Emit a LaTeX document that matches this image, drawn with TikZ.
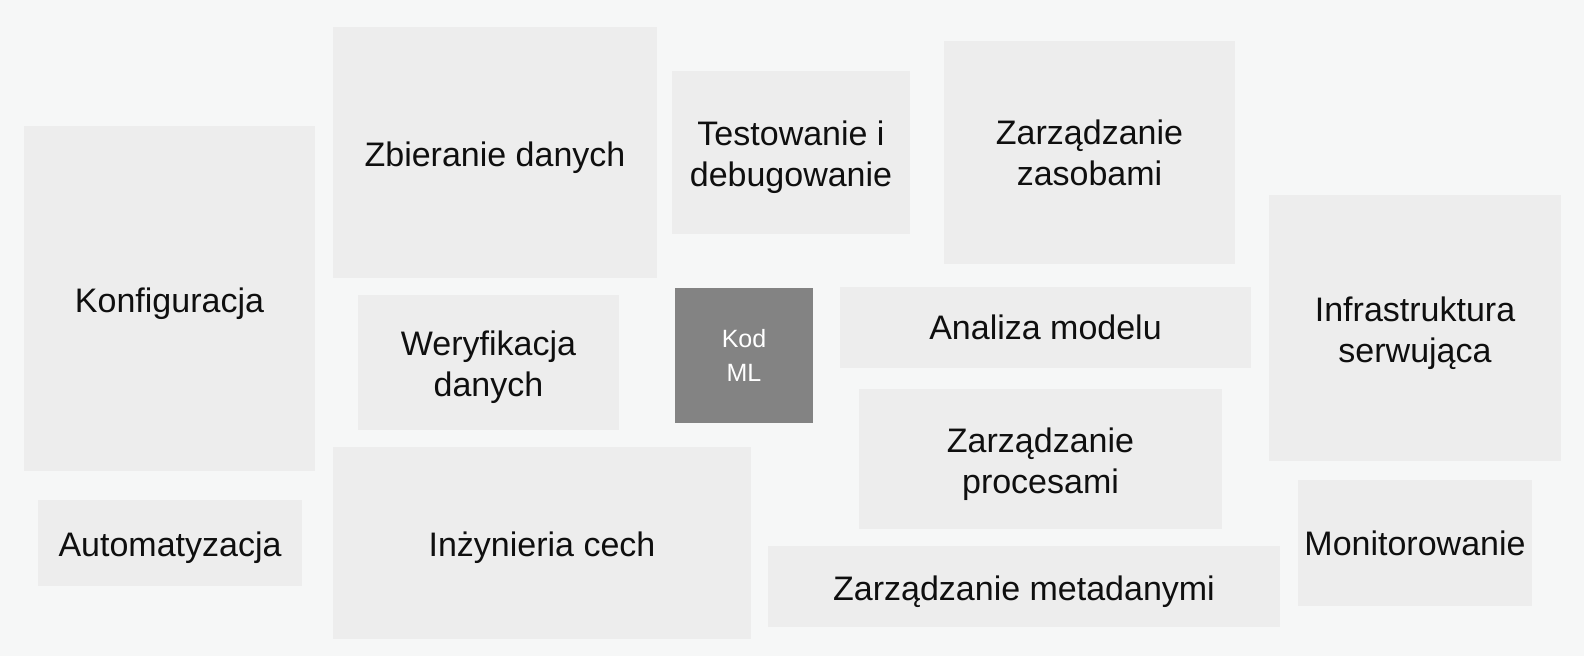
\documentclass[tikz,border=0pt]{standalone}
\usepackage{fontspec}
\setmainfont{Liberation Sans}
\definecolor{bgc}{HTML}{F6F7F7}
\definecolor{boxc}{HTML}{EDEDED}
\definecolor{kodc}{HTML}{838383}
\definecolor{txtc}{HTML}{0F0F0F}
\tikzset{
  box/.style={fill=boxc, draw=none, inner sep=0pt, outer sep=0pt},
  lbl/.style={align=center, text=txtc, inner sep=0pt, yshift=-5pt,
    font=\fontsize{34}{41}\selectfont},
  lblflat/.style={lbl, yshift=5pt},
  kodbox/.style={fill=kodc, draw=none, inner sep=0pt, outer sep=0pt, align=center,
    text=white, font=\fontsize{25}{34}\selectfont}
}
\begin{document}
\begin{tikzpicture}[x=1pt,y=-1pt]
\fill[bgc] (0,0) rectangle (1584,656);
\useasboundingbox (0,0) rectangle (1584,656);
\node[box, minimum width=291pt, minimum height=345pt, label={[lbl]center:{Konfiguracja}}] (konf) at (169.5,298.5) {};
\node[box, minimum width=324pt, minimum height=251pt, label={[lbl]center:{Zbieranie danych}}] (zbier) at (495,152.5) {};
\node[box, minimum width=238pt, minimum height=163pt, label={[lbl]center:{Testowanie i\\debugowanie}}] (test) at (791,152.5) {};
\node[box, minimum width=291pt, minimum height=223pt, label={[lblflat]center:{Zarządzanie\\zasobami}}] (zas) at (1089.5,152.5) {};
\node[box, minimum width=292pt, minimum height=266pt, label={[lbl]center:{Infrastruktura\\serwująca}}] (infra) at (1415,328) {};
\node[box, minimum width=261pt, minimum height=135pt, label={[lbl]center:{Weryfikacja\\danych}}] (wer) at (488.5,362.5) {};
\node[kodbox, minimum width=138pt, minimum height=135pt] (kod) at (744,355.5) {Kod\\ML};
\node[box, minimum width=411pt, minimum height=81pt, label={[lblflat]center:{Analiza modelu}}] (anal) at (1045.5,327.5) {};
\node[box, minimum width=363pt, minimum height=140pt, label={[lbl]center:{Zarządzanie\\procesami}}] (proc) at (1040.5,459) {};
\node[box, minimum width=264pt, minimum height=86pt, label={[lbl]center:{Automatyzacja}}] (auto) at (170,543) {};
\node[box, minimum width=418pt, minimum height=192pt, label={[lbl]center:{Inżynieria cech}}] (inz) at (542,543) {};
\node[box, minimum width=512pt, minimum height=81pt, label={[lbl]center:{Zarządzanie metadanymi}}] (meta) at (1024,586.5) {};
\node[box, minimum width=234pt, minimum height=126pt, label={[lblflat]center:{Monitorowanie}}] (mon) at (1415,543) {};
\end{tikzpicture}
\end{document}
